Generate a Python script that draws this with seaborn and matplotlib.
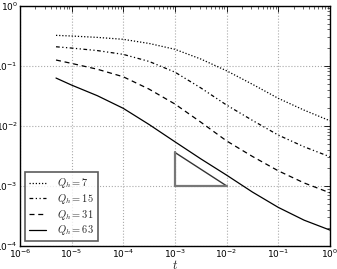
import numpy as np
import pandas as pd
import matplotlib
matplotlib.use("Agg")
import matplotlib.pyplot as plt
import seaborn as sns

# time points
t = [5e-6, 1e-5, 3.16e-5, 1e-4, 3.16e-4, 1e-3, 3.16e-3, 1e-2, 3.16e-2, 1e-1, 3.16e-1, 1.0]

# values
q7 = [0.319, 0.311, 0.295, 0.274, 0.234, 0.187, 0.129, 0.0822, 0.049, 0.0286, 0.0182, 0.0121]
q15 = [0.206, 0.196, 0.178, 0.154, 0.1175, 0.078, 0.0427, 0.0221, 0.0123, 0.0070, 0.00447, 0.00305]
q31 = [0.124, 0.109, 0.0871, 0.0653, 0.0407, 0.0230, 0.0115, 0.0056, 0.00309, 0.00178, 0.00112, 0.000767]
q63 = [0.0622, 0.0475, 0.0316, 0.0195, 0.0105, 0.00542, 0.00282, 0.00151, 0.00079, 0.000439, 0.000269, 0.000184]

labels = ["$Q_h=7$", "$Q_h=15$", "$Q_h=31$", "$Q_h=63$"]

# slope triangle corners
tri_t = [1e-3, 1e-2, 1e-3, 1e-3]
tri_y = [1e-3, 1e-3, 3.6e-3, 1e-3]

sns.set_theme(style="white")
plt.rcParams.update({
    "font.family": ["DejaVu Sans"],
    "xtick.direction": "in",
    "ytick.direction": "in",
    "xtick.top": True,
    "ytick.right": True,
    "xtick.labelsize": 6.5,
    "ytick.labelsize": 6.5,
    "axes.edgecolor": "black",
    "axes.linewidth": 1.0,
})

df = pd.DataFrame({"t": t * 4,
                   "val": q7 + q15 + q31 + q63,
                   "series": [l for l in labels for _ in t]})

fig = plt.figure(figsize=(3.37, 2.69), dpi=100)
ax = fig.add_axes([0.059, 0.0855, 0.92, 0.894])

styles = [(0, (1, 1.5)), (0, (3, 2, 1, 2, 1, 2)), (0, (4, 3)), "-"]
for lab, ls in zip(labels, styles):
    sub = df[df["series"] == lab]
    sns.lineplot(data=sub, x="t", y="val", ax=ax, color="black", lw=0.9,
                 linestyle=ls, label=lab, legend=False)

ax.plot(tri_t[1:3], tri_y[1:3], color="#333333", lw=1.0)
ax.plot([tri_t[0], tri_t[1]], [tri_y[0], tri_y[1]], color="#777777", lw=1.6)
ax.plot([tri_t[2], tri_t[3]], [tri_y[2], tri_y[3]], color="#777777", lw=1.6)

ax.set_xscale("log")
ax.set_yscale("log")
ax.set_xlim(1e-6, 1)
ax.set_ylim(1e-4, 1)
ax.grid(True, which="major", linestyle=":", color="#aaaaaa", lw=0.8)
ax.tick_params(which="major", length=4, width=0.6, colors="black", pad=1.5)
ax.tick_params(which="minor", length=2, width=0.5)
ax.set_xlabel("$t$", fontsize=9, labelpad=-1, math_fontfamily="cm")
ax.set_ylabel("")

leg = ax.legend(loc="lower left", fontsize=7.5, frameon=True, fancybox=False,
                borderaxespad=0.45, handlelength=1.7, labelspacing=0.15,
                handletextpad=1.0, borderpad=0.4)
leg.get_frame().set_edgecolor("#333333")
leg.get_frame().set_linewidth(1.2)
for txt in leg.get_texts():
    txt.set_math_fontfamily("cm")

fig.savefig("out.png", dpi=100)
